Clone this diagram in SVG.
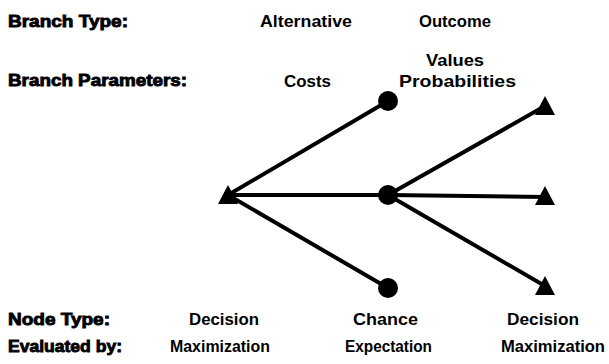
<svg xmlns="http://www.w3.org/2000/svg" width="609" height="364" viewBox="0 0 609 364">
<style>
text{font-family:"Liberation Sans",Arial,sans-serif;font-weight:bold;font-size:17px;fill:#000}
.hd{stroke:#000;stroke-width:0.9px}
.ln{stroke:#000;stroke-width:4;stroke-linecap:round;fill:none}
</style>
<rect width="609" height="364" fill="#fff"/>
<g id="labels">
<text class="hd" x="8" y="27" textLength="120" lengthAdjust="spacingAndGlyphs">Branch Type:</text>
<text class="hd" x="8" y="86" textLength="179" lengthAdjust="spacingAndGlyphs">Branch Parameters:</text>
<text class="hd" x="8" y="325" textLength="102" lengthAdjust="spacingAndGlyphs">Node Type:</text>
<text class="hd" x="8" y="352" textLength="114" lengthAdjust="spacingAndGlyphs">Evaluated by:</text>
<text x="260" y="27" textLength="92" lengthAdjust="spacingAndGlyphs">Alternative</text>
<text x="419" y="27" textLength="72" lengthAdjust="spacingAndGlyphs">Outcome</text>
<text x="284" y="87" textLength="47" lengthAdjust="spacingAndGlyphs">Costs</text>
<text x="426" y="66" textLength="58" lengthAdjust="spacingAndGlyphs">Values</text>
<text x="399" y="87" textLength="117" lengthAdjust="spacingAndGlyphs">Probabilities</text>
<text x="189" y="325" textLength="70" lengthAdjust="spacingAndGlyphs">Decision</text>
<text x="353" y="325" textLength="65" lengthAdjust="spacingAndGlyphs">Chance</text>
<text x="507" y="325" textLength="72" lengthAdjust="spacingAndGlyphs">Decision</text>
<text x="170" y="352" textLength="100" lengthAdjust="spacingAndGlyphs">Maximization</text>
<text x="345" y="352" textLength="87" lengthAdjust="spacingAndGlyphs">Expectation</text>
<text x="501" y="352" textLength="104" lengthAdjust="spacingAndGlyphs">Maximization</text>
</g>
<g id="connectors">
<line class="ln" x1="228" y1="195" x2="388" y2="101"/>
<line class="ln" x1="228" y1="195" x2="388" y2="195"/>
<line class="ln" x1="228" y1="195" x2="388" y2="288"/>
<line class="ln" x1="388" y1="195" x2="545" y2="106"/>
<line class="ln" x1="388" y1="195" x2="545" y2="197"/>
<line class="ln" x1="388" y1="195" x2="545" y2="286"/>
</g>
<g id="decision-root"><polygon points="228,185 218,204 238,204"/></g>
<g id="chance-top"><circle cx="388" cy="101" r="10"/></g>
<g id="chance-mid"><circle cx="388" cy="195" r="10"/></g>
<g id="chance-bottom"><circle cx="388" cy="288" r="10"/></g>
<g id="decision-top"><polygon points="545,96 535,115 555,115"/></g>
<g id="decision-mid"><polygon points="545,186 535,205 555,205"/></g>
<g id="decision-bottom"><polygon points="545,276 535,295 555,295"/></g>
</svg>
